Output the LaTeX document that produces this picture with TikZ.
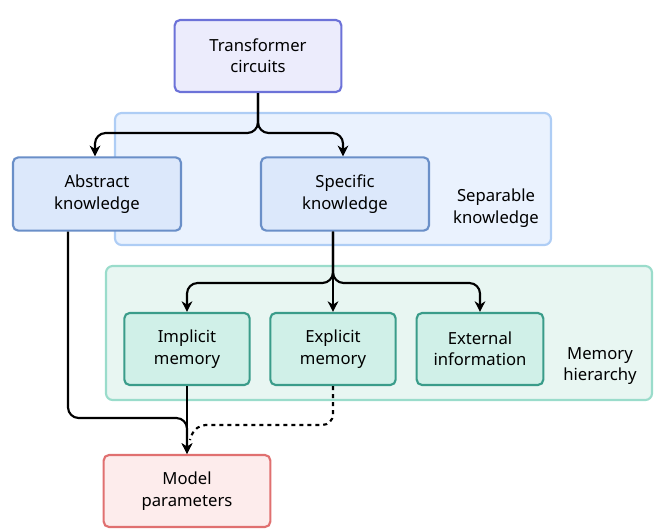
\documentclass[tikz,border=0pt]{standalone}
\usepackage{fontspec}
\setmainfont{Noto Sans}
\usetikzlibrary{arrows.meta}
\definecolor{tfill}{HTML}{ECECFC}\definecolor{tline}{HTML}{6C72D8}
\definecolor{sfill}{HTML}{EAF2FE}\definecolor{sline}{HTML}{AECDF5}
\definecolor{kfill}{HTML}{DCE8FB}\definecolor{kline}{HTML}{6A8FC8}
\definecolor{mfill}{HTML}{E8F6F2}\definecolor{mline}{HTML}{9ADCCB}
\definecolor{bfill}{HTML}{D0F0E8}\definecolor{bline}{HTML}{3A9C8A}
\definecolor{pfill}{HTML}{FDECEC}\definecolor{pline}{HTML}{E07070}
\begin{document}
\begin{tikzpicture}[x=0.75pt,y=-0.75pt,
  box/.style={rounded corners=4pt,line width=1.6pt,align=center,font=\fontsize{12.5}{16}\selectfont},
  panel/.style={rounded corners=5pt,line width=1.6pt},
  lab/.style={align=center,font=\fontsize{12.5}{16}\selectfont},
  conn/.style={line width=1.6pt,rounded corners=8pt},
  arr/.style={conn,-{Stealth[length=8pt,width=8pt]}}]
\useasboundingbox (0,0) rectangle (662,532);
\draw[panel,fill=sfill,draw=sline] (115,113) rectangle (551,245);
\draw[panel,fill=mfill,draw=mline] (106,266) rectangle (652,400);
\node[box,fill=tfill,draw=tline,minimum width=125pt,minimum height=54pt] (tc) at (258,56) {Transformer\\circuits};
\node[box,fill=kfill,draw=kline,minimum width=126pt,minimum height=55pt] (ak) at (97,194) {Abstract\\knowledge};
\node[box,fill=kfill,draw=kline,minimum width=126pt,minimum height=55pt] (sk) at (345,194) {Specific\\knowledge};
\node[lab] (sl) at (496,208) {Separable\\knowledge};
\node[box,fill=bfill,draw=bline,minimum width=94pt,minimum height=54pt] (im) at (187,349) {Implicit\\memory};
\node[box,fill=bfill,draw=bline,minimum width=94pt,minimum height=54pt] (em) at (333,349) {Explicit\\memory};
\node[box,fill=bfill,draw=bline,minimum width=95pt,minimum height=54pt] (ei) at (480,349) {External\\information};
\node[lab] (ml) at (600,366) {Memory\\hierarchy};
\node[box,fill=pfill,draw=pline,minimum width=125pt,minimum height=54pt] (mp) at (187,491) {Model\\parameters};
\coordinate (s1) at (258,133);
\draw[arr] (tc.south) |- (s1) -| (ak.north -| 95,0);
\draw[arr] (tc.south) |- (s1) -| (sk.north -| 343,0);
\coordinate (s2) at (333,283);
\draw[arr] (sk.south -| 333,0) |- (s2) -| (im.north);
\draw[arr] (sk.south -| 333,0) -- (em.north);
\draw[arr] (sk.south -| 333,0) |- (s2) -| (ei.north);
\draw[arr] (ak.south -| 68,0) |- (187,418) -- (mp.north);
\draw[arr] (im.south) -- (mp.north);
\draw[conn,dashed] (em.south) |- (195,425) -- (190,440);
\end{tikzpicture}
\end{document}
